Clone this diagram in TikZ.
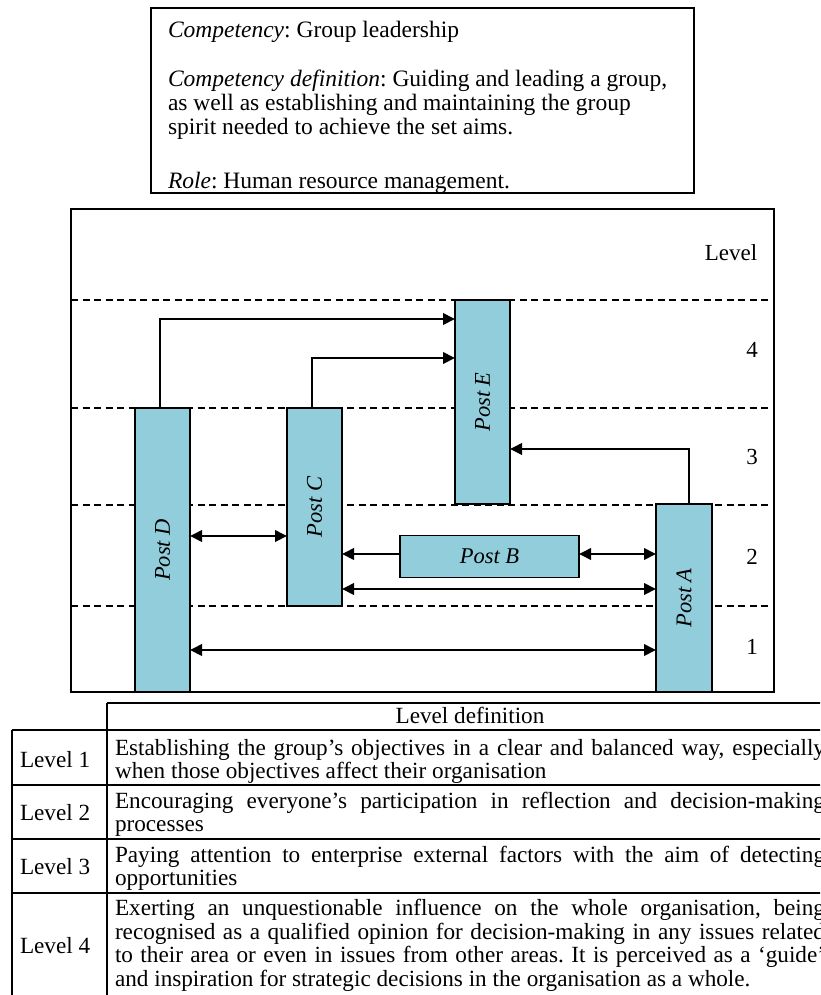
\documentclass[tikz,border=0pt]{standalone}
\usepackage{fontspec}
\setmainfont{Liberation Serif}
\usetikzlibrary{arrows.meta}
\definecolor{postfill}{HTML}{92CDDC}
\frenchspacing

\begin{document}
\begin{tikzpicture}[x=1pt,y=-1pt,
  frame/.style={draw=black,line width=1.4pt},
  rule/.style={line width=1.4pt},
  levelline/.style={dash pattern=on 7pt off 4.5pt,line width=1.4pt},
  post/.style={draw=black,fill=postfill,line width=1.4pt,inner sep=0pt,outer sep=0pt,
    font=\fontsize{22.5}{26}\selectfont\itshape},
  conn/.style={line width=2pt,-{Triangle[length=12pt,width=11.5pt]}},
  both/.style={line width=2pt,{Triangle[length=12pt,width=11.5pt]}-{Triangle[length=12pt,width=11.5pt]}},
  txt/.style={inner sep=0pt,outer sep=0pt,font=\fontsize{23}{23.5}\selectfont},
  cardtxt/.style={inner sep=0pt,outer sep=0pt,font=\fontsize{23.5}{23.7}\selectfont},
  celltxt/.style={inner sep=0pt,outer sep=0pt,font=\fontsize{23.2}{23.7}\selectfont},
]
\useasboundingbox (0,0) rectangle (820,995);
\fill[white] (0,0) rectangle (820,995);
\begin{scope}
\clip (0,0) rectangle (820,995);

% ---- competency card ----
\begin{scope}
  \clip (151,8) rectangle (694,193);
  \node[cardtxt,anchor=base west] (comp) at (168,38) {\textit{Competency}: Group leadership};
  \node[cardtxt,anchor=base west] (def) at (168,87) {\parbox[t]{520pt}{\raggedright
    \textit{Competency definition}: Guiding and leading a group,\\
    as well as establishing and maintaining the group\\
    spirit needed to achieve the set aims.}};
  \node[cardtxt,anchor=base west] (role) at (168,188.5) {\textit{Role}: Human resource management.};
\end{scope}
\draw[frame] (151,8) rectangle (694,193);

% ---- level bands ----
\foreach \yy in {300,408,505,606}
  \draw[levelline] (71,\yy) -- (774,\yy);

\node[txt,anchor=base] (lvl) at (731,260.5) {Level};
\node[txt,anchor=base] (lv4) at (752,357.5) {4};
\node[txt,anchor=base] (lv3) at (752,464.5) {3};
\node[txt,anchor=base] (lv2) at (752,564.5) {2};
\node[txt,anchor=base] (lv1) at (752,654.5) {1};

% ---- posts ----
\node[post,minimum width=55pt,minimum height=284pt] (D) at (162.5,550) {\rotatebox{90}{Post D}};
\node[post,minimum width=55pt,minimum height=198pt] (C) at (314.5,507) {\rotatebox{90}{Post C}};
\node[post,minimum width=55pt,minimum height=204pt] (E) at (482.5,402) {\rotatebox{90}{Post E}};
\node[post,minimum width=56pt,minimum height=188pt] (A) at (684,598) {\rotatebox{90}{Post A}};
\node[post,minimum width=179pt,minimum height=42pt] (B) at (489.5,556.5) {Post B};

% ---- relations ----
\coordinate (rowDE) at (0,319);
\coordinate (rowCE) at (0,358);
\coordinate (rowAE) at (0,449);
\coordinate (rowDC) at (0,536);
\coordinate (rowB)  at (0,554);
\coordinate (rowCA) at (0,589);
\coordinate (rowDA) at (0,650);

\draw[conn] ([xshift=-2.5pt]D.north) |- (E.west |- rowDE);
\draw[conn] ([xshift=-2.5pt]C.north) |- (E.west |- rowCE);
\draw[conn] ([xshift=5pt]A.north) |- (E.east |- rowAE);
\draw[both] (D.east |- rowDC) -- (C.west |- rowDC);
\draw[conn] (B.west |- rowB) -- (C.east |- rowB);
\draw[both] (B.east |- rowB) -- (A.west |- rowB);
\draw[both] (C.east |- rowCA) -- (A.west |- rowCA);
\draw[both] (D.east |- rowDA) -- (A.west |- rowDA);

\draw[frame] (71,209) rectangle (774,692);

% ---- level definition table ----
\draw[rule] (107,703) -- (833,703);
\draw[rule] (12,730) -- (833,730);
\draw[rule] (12,785) -- (833,785);
\draw[rule] (12,839) -- (833,839);
\draw[rule] (12,893) -- (833,893);
\draw[rule] (12,730) -- (12,1000);
\draw[rule] (107,703) -- (107,1000);
\draw[rule] (833,703) -- (833,1000);

\node[celltxt,anchor=base] (hdr) at (470,723) {Level definition};

\node[celltxt,anchor=base west] (n1) at (20,767.5) {Level 1};
\node[celltxt,anchor=base west] (n2) at (20,820.5) {Level 2};
\node[celltxt,anchor=base west] (n3) at (20,874.5) {Level 3};
\node[celltxt,anchor=base west] (n4) at (20,953.5) {Level 4};

\node[celltxt,anchor=base west] (d1) at (115,755) {\parbox[t]{710pt}{\tolerance=10000\hbadness=10000
  Establishing the group’s objectives in a clear and balanced way, especially\linebreak
  when those objectives affect their organisation}};
\node[celltxt,anchor=base west] (d2) at (115,808) {\parbox[t]{710pt}{\tolerance=10000\hbadness=10000
  Encouraging everyone’s participation in reflection and decision-making\linebreak
  processes}};
\node[celltxt,anchor=base west] (d3) at (115,862) {\parbox[t]{710pt}{\tolerance=10000\hbadness=10000
  Paying attention to enterprise external factors with the aim of detecting\linebreak
  opportunities}};
\node[celltxt,anchor=base west] (d4) at (115,915.5) {\parbox[t]{710pt}{\tolerance=10000\hbadness=10000
  Exerting an unquestionable influence on the whole organisation, being\linebreak
  recognised as a qualified opinion for decision-making in any issues related\linebreak
  to their area or even in issues from other areas. It is perceived as a ‘guide’\linebreak
  and inspiration for strategic decisions in the organisation as a whole.}};
\end{scope}
\end{tikzpicture}
\end{document}
